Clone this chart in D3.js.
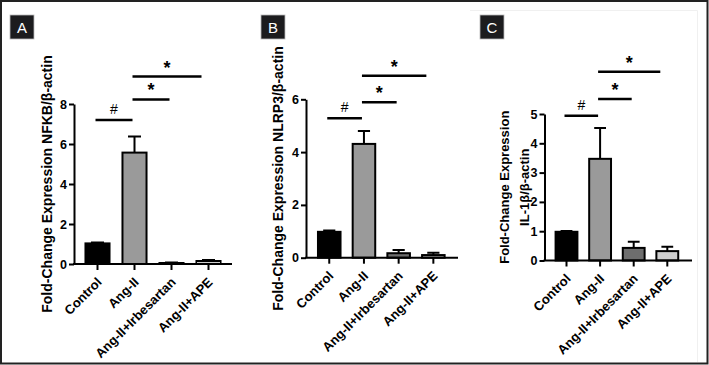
<!DOCTYPE html>
<html>
<head>
<meta charset="utf-8">
<script src="https://cdn.jsdelivr.net/npm/d3@7"></script>
<style>
  body { margin: 0; background: #fff; }
  svg { display: block; font-family: Arial, "Liberation Sans", sans-serif; }
</style>
</head>
<body>
<div id="chart"></div>
<script>
// data
var categories = ["Control", "Ang-II", "Ang-II+Irbesartan", "Ang-II+APE"]
var barFills = ["#000000", "#9a9a9a", "#6e6e6e", "#cfcfcf"]

var nfkbMean = [1.03, 5.57, 0.05, 0.15]
var nfkbErr  = [0.05, 0.80, 0.03, 0.05]
var nlrp3Mean = [0.98, 4.31, 0.17, 0.10]
var nlrp3Err  = [0.05, 0.49, 0.12, 0.09]
var il1bMean = [0.98, 3.47, 0.43, 0.32]
var il1bErr  = [0.03, 1.05, 0.21, 0.15]

var nfkbTicks = [0, 2, 4, 6, 8]
var nlrp3Ticks = [0, 2, 4, 6]
var il1bTicks = [0, 1, 2, 3, 4, 5]

// significance brackets: [from, to, label, height in data units]
var nfkbSig = [[0, 1, "#", 7.2], [1, 2, "*", 8.23], [1, 3, "*", 9.37]]
var nlrp3Sig = [[0, 1, "#", 5.28], [1, 2, "*", 5.89], [1, 3, "*", 6.89]]
var il1bSig = [[0, 1, "#", 4.94], [1, 2, "*", 5.51], [1, 3, "*", 6.44]]

var W = 709, H = 365

var svg = d3.select("#chart").append("svg")
  .attr("width", W)
  .attr("height", H)

// faint frame of panel C image
svg.append("path")
  .attr("d", "M470,10.5H697.5V362")
  .attr("fill", "none")
  .attr("stroke", "#f0f0f0")
  .attr("stroke-width", 1)

function panel(opt){
  var g = svg.append("g")

  var x = d3.scaleBand()
    .domain(categories)
    .range(opt.xr)
    .paddingInner(0.35)
    .paddingOuter(0.175)
  var y = d3.scaleLinear()
    .domain([0, opt.ticks[opt.ticks.length - 1]])
    .range(opt.yr)

  // bars
  var rows = categories.map((c, i) => ({c: c, v: opt.mean[i], e: opt.err[i], i: i}))

  g.selectAll(".err").data(rows).enter()
    .append("path")
    .attr("class", "err")
    .attr("d", d => {
      var cx = x(d.c) + x.bandwidth() / 2
      var w = x.bandwidth() * 0.27
      return `M${cx},${y(d.v)}V${y(d.v + d.e)}M${cx - w},${y(d.v + d.e)}H${cx + w}`
    })
    .attr("stroke", "#000")
    .attr("stroke-width", 2)
    .attr("fill", "none")

  g.selectAll(".bar").data(rows).enter()
    .append("rect")
    .attr("class", "bar")
    .attr("x", d => x(d.c))
    .attr("y", d => y(d.v))
    .attr("width", x.bandwidth())
    .attr("height", d => y(0) - y(d.v))
    .attr("fill", d => barFills[d.i])
    .attr("stroke", "#000")
    .attr("stroke-width", 2)

  // y axis
  var ya = g.append("g")
    .attr("transform", `translate(${opt.axisX},0)`)
    .call(d3.axisLeft(y).tickValues(opt.ticks).tickFormat(d3.format("d"))
      .tickSize(5).tickSizeOuter(0).tickPadding(2))
  ya.select(".domain").attr("stroke-width", 2)
  ya.selectAll(".tick line").attr("stroke-width", 2)
  ya.selectAll(".tick text")
    .attr("font-size", 12.5)
    .attr("font-weight", "bold")
    .attr("fill", "#000")
    .attr("font-family", "Arial, 'Liberation Sans', sans-serif")

  // x axis
  var xa = g.append("g")
    .attr("transform", `translate(0,${y(0)})`)
    .call(d3.axisBottom(x).tickSize(6).tickSizeOuter(0))
  xa.select(".domain")
    .attr("d", `M${opt.axisX - 1},0H${opt.xEnd}`)
    .attr("stroke-width", 2)
  xa.selectAll(".tick line").attr("stroke-width", 2)
  xa.selectAll(".tick text")
    .attr("font-size", 13)
    .attr("font-weight", "bold")
    .attr("fill", "#000")
    .attr("font-family", "Arial, 'Liberation Sans', sans-serif")
    .attr("text-anchor", "end")
    .attr("y", 0)
    .attr("dy", 0)
    .attr("transform", "translate(5,19) rotate(-45)")

  // y title
  var tt = g.append("text")
    .attr("transform", `translate(${opt.titleX},${(opt.yr[0] + opt.yr[1]) / 2}) rotate(-90)`)
    .attr("text-anchor", "middle")
    .attr("font-size", opt.titleSize)
    .attr("font-weight", "bold")
  opt.title.forEach((t, i) => {
    tt.append("tspan")
      .attr("x", 0)
      .attr("dy", i ? opt.titleGap : 0)
      .text(t)
  })

  // significance
  opt.sig.forEach(s => {
    var x1 = x(categories[s[0]]) + x.bandwidth() / 2 - 2
    var x2 = x(categories[s[1]]) + x.bandwidth() / 2 - (s[1] - s[0] > 1 ? 7 : 2)
    var yy = y(s[3])
    g.append("line")
      .attr("x1", x1).attr("x2", x2)
      .attr("y1", yy).attr("y2", yy)
      .attr("stroke", "#000")
      .attr("stroke-width", 2.5)
    g.append("text")
      .attr("x", (x1 + x2) / 2)
      .attr("y", s[2] == "#" ? yy - 6 : yy - 3)
      .attr("text-anchor", "middle")
      .attr("font-size", s[2] == "#" ? 14 : 18)
      .attr("font-weight", s[2] == "#" ? "normal" : "bold")
      .text(s[2])
  })

  // panel letter
  g.append("rect")
    .attr("x", opt.box[0]).attr("y", opt.box[1])
    .attr("width", 24).attr("height", 24)
    .attr("fill", "#1c1c1e")
    .attr("stroke", "#bbb")
    .attr("stroke-width", 0.8)
  g.append("text")
    .attr("x", opt.box[0] + 12).attr("y", opt.box[1] + 17.5)
    .attr("text-anchor", "middle")
    .attr("fill", "#fff")
    .attr("font-size", 15)
    .text(opt.letter)
}

panel({
  letter: "A", box: [10, 15],
  mean: nfkbMean, err: nfkbErr, ticks: nfkbTicks, sig: nfkbSig,
  xr: [79, 227], yr: [264, 104], axisX: 74, xEnd: 232,
  title: ["Fold-Change Expression NFKB/β-actin"], titleX: 52, titleSize: 14, titleGap: 0
})
panel({
  letter: "B", box: [261, 15],
  mean: nlrp3Mean, err: nlrp3Err, ticks: nlrp3Ticks, sig: nlrp3Sig,
  xr: [311.9, 450.7], yr: [257.7, 99.3], axisX: 306, xEnd: 458,
  title: ["Fold-Change Expression NLRP3/β-actin"], titleX: 283, titleSize: 14, titleGap: 0
})
panel({
  letter: "C", box: [480, 15],
  mean: il1bMean, err: il1bErr, ticks: il1bTicks, sig: il1bSig,
  xr: [549.7, 684.1], yr: [260.5, 114], axisX: 544.5, xEnd: 692,
  title: ["Fold-Change Expression", "IL-1β/β-actin"], titleX: 509, titleSize: 13, titleGap: 20
})

// outer frame
svg.append("rect")
  .attr("x", 1).attr("y", 1)
  .attr("width", W - 2.5).attr("height", H - 2.5)
  .attr("fill", "none")
  .attr("stroke", "#222")
  .attr("stroke-width", 2)
</script>
</body>
</html>
